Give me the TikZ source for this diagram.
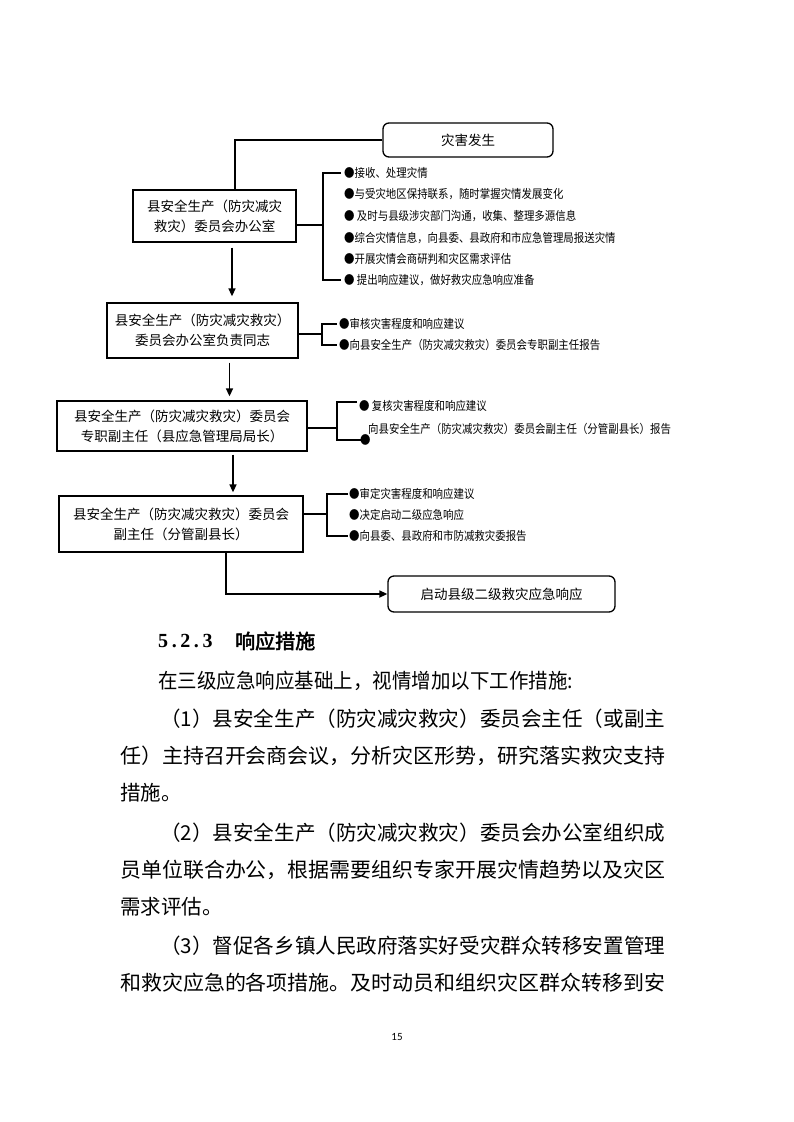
\documentclass[tikz,border=0pt]{standalone}
\usepackage{fontspec}
\usepackage{graphicx}
\setmainfont{Noto Sans CJK SC}
\newfontfamily\cjkbold{Noto Sans CJK SC}[FakeBold=2.5]
\newfontfamily\numfont{Liberation Serif}
\newfontfamily\pgfont{Carlito}
\usetikzlibrary{arrows.meta,calc}
\newcommand{\cz}[1]{\scalebox{0.87}[1]{#1}}
\newcommand{\fitw}[2]{\resizebox{#1}{\height}{#2}}
\begin{document}
\begin{tikzpicture}[x=1pt,y=1pt,
  box/.style={draw, line width=1.3pt, rectangle, inner sep=0pt, align=center,
              font=\fontsize{13.5}{20}\selectfont},
  rbox/.style={box, rounded corners=6pt},
  ln/.style={line width=1.6pt},
  arr/.style={ln, -{Triangle[length=8pt,width=7pt]}},
  item/.style={anchor=west, inner sep=0pt, font=\fontsize{12}{14}\selectfont},
  body/.style={anchor=west, inner sep=0pt, font=\fontsize{20.5}{24}\selectfont}]
\useasboundingbox (0,0) rectangle (793,-1122);
\fill[white] (0,0) rectangle (793,-1122);

% boxes
\node[rbox, minimum width=170pt, minimum height=34pt] (top) at (468,-140) {灾害发生};
\node[box, minimum width=163pt, minimum height=52pt] (b1) at (214.5,-216) {县安全生产（防灾减灾\\救灾）委员会办公室};
\node[box, minimum width=191pt, minimum height=55pt] (b2) at (202.5,-330.5) {县安全生产（防灾减灾救灾）\\委员会办公室负责同志};
\node[box, minimum width=250pt, minimum height=50pt] (b3) at (182,-426) {县安全生产（防灾减灾救灾）委员会\\专职副主任（县应急管理局局长）};
\node[box, minimum width=244pt, minimum height=56pt] (b4) at (181,-524) {县安全生产（防灾减灾救灾）委员会\\副主任（分管副县长）};
\node[rbox, minimum width=227pt, minimum height=36pt] (b5) at (501.5,-594) {启动县级二级救灾应急响应};

% main flow
\coordinate (c0) at (235,0);
\draw[ln] (top.west) -| (b1.north -| c0);
\coordinate (a1) at (232,0);
\draw[arr, shorten <=5pt, shorten >=6pt] (b1.south -| a1) -- (b2.north -| a1);
\coordinate (a2) at (229.5,0);
\draw[arr, shorten <=4pt, shorten >=4pt] (b2.south -| a2) -- (b3.north -| a2);
\coordinate (a3) at (233,0);
\draw[arr, shorten <=3pt, shorten >=3pt] (b3.south -| a3) -- (b4.north -| a3);
\coordinate (a4) at (226,0);
\draw[arr] (b4.south -| a4) |- (b5.west);

% list 1
\node[item] (i11) at (344,-173) {\cz{●接收、处理灾情}};
\node[item] (i12) at (344,-194) {\cz{●与受灾地区保持联系，随时掌握灾情发展变化}};
\node[item] (i13) at (344,-216) {\cz{● 及时与县级涉灾部门沟通，收集、整理多源信息}};
\node[item] (i14) at (344,-238) {\cz{●综合灾情信息，向县委、县政府和市应急管理局报送灾情}};
\node[item] (i15) at (344,-259) {\cz{●开展灾情会商研判和灾区需求评估}};
\node[item] (i16) at (344,-280) {\cz{● 提出响应建议，做好救灾应急响应准备}};
\coordinate (k1) at (323,0);
\draw[ln] ([yshift=-9pt]b1.east) -- ([yshift=-9pt]b1.east -| k1);
\draw[ln] ([xshift=-3pt]i11.west) -- (i11.west -| k1) -- (i16.west -| k1) -- ([xshift=-3pt]i16.west);

% list 2
\node[item] (i21) at (339,-324) {\cz{●审核灾害程度和响应建议}};
\node[item] (i22) at (339,-345) {\cz{●向县安全生产（防灾减灾救灾）委员会专职副主任报告}};
\coordinate (k2) at (322,0);
\draw[ln] ([yshift=-3.5pt]b2.east) -- ([yshift=-3.5pt]b2.east -| k2);
\draw[ln] ([xshift=-2pt]i21.west) -- (i21.west -| k2) -- (i22.west -| k2) -- ([xshift=-2pt]i22.west);

% list 3
\node[item] (i31) at (359,-406) {\cz{● 复核灾害程度和响应建议}};
\node[item] (i32) at (368,-429) {\cz{向县安全生产（防灾减灾救灾）委员会副主任（分管副县长）报告}};
\node[item] (q32) at (360,-440) {\cz{●}};
\coordinate (k3) at (337,0);
\draw[ln] ([yshift=-2pt]b3.east) -- ([yshift=-2pt]b3.east -| k3);
\draw[ln] ([xshift=-2pt,yshift=4pt]i31.west) -- ([yshift=4pt]i31.west -| k3) -- (q32.west -| k3) -- ([xshift=1pt]q32.west);

% list 4
\node[item] (i41) at (349,-494) {\cz{●审定灾害程度和响应建议}};
\node[item] (i42) at (349,-515) {\cz{●决定启动二级应急响应}};
\node[item] (i43) at (349,-536) {\cz{●向县委、县政府和市防减救灾委报告}};
\coordinate (k4) at (327,0);
\draw[ln] ([yshift=10pt]b4.east) -- ([yshift=10pt]b4.east -| k4);
\draw[ln] ([xshift=-1pt]i41.west) -- (i41.west -| k4) -- (i43.west -| k4) -- ([xshift=-1pt]i43.west);

% section text
\node[body, font=\numfont\bfseries\fontsize{20}{24}\selectfont\addfontfeature{LetterSpace=18}] (h1) at (158,-641) {5.2.3};
\node[body, font=\cjkbold\fontsize{20}{24}\selectfont] (h2) at (235,-641) {响应措施};
\node[body] (l1) at (158,-681) {\fitw{415pt}{在三级应急响应基础上，视情增加以下工作措施:}};
\node[body] (l2) at (160,-719) {\fitw{505pt}{（1）县安全生产（防灾减灾救灾）委员会主任（或副主}};
\node[body] (l3) at (120,-756) {\fitw{545pt}{任）主持召开会商会议，分析灾区形势，研究落实救灾支持}};
\node[body] (l4) at (120,-793) {措施。};
\node[body] (l5) at (160,-833) {\fitw{505pt}{（2）县安全生产（防灾减灾救灾）委员会办公室组织成}};
\node[body] (l6) at (120,-870) {\fitw{545pt}{员单位联合办公，根据需要组织专家开展灾情趋势以及灾区}};
\node[body] (l7) at (120,-907) {需求评估。};
\node[body] (l8) at (160,-946) {\fitw{505pt}{（3）督促各乡镇人民政府落实好受灾群众转移安置管理}};
\node[body] (l9) at (120,-983) {\fitw{545pt}{和救灾应急的各项措施。及时动员和组织灾区群众转移到安}};
\node[font=\pgfont\fontsize{11}{13}\selectfont, inner sep=0pt] (pg) at (397,-1037) {15};
\end{tikzpicture}
\end{document}
